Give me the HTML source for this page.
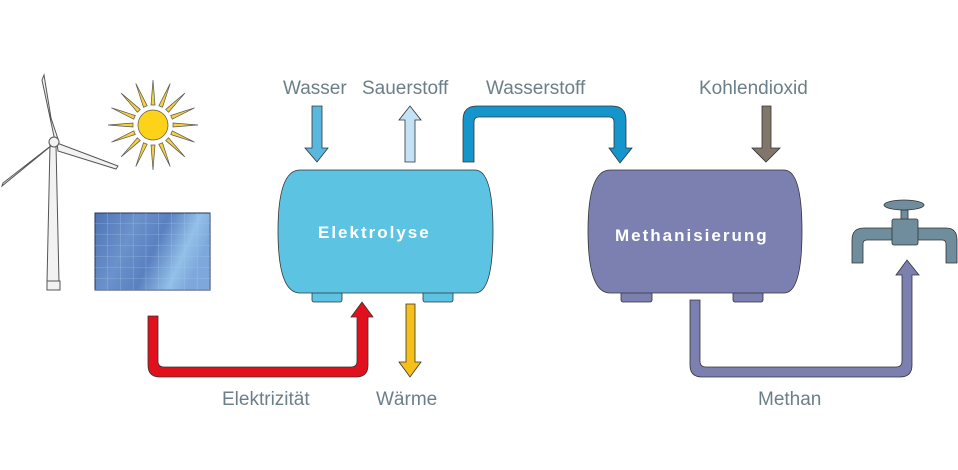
<!DOCTYPE html>
<html><head><meta charset="utf-8"><style>
body{margin:0;background:#fff}
svg{display:block}
text{font-family:"Liberation Sans",sans-serif}
</style></head><body>
<svg width="958" height="470" viewBox="0 0 958 470" xmlns="http://www.w3.org/2000/svg">
<defs>
<linearGradient id="pv" x1="0" y1="0" x2="1" y2="0.3">
<stop offset="0" stop-color="#4f74b4"/><stop offset="0.35" stop-color="#6c92cc"/><stop offset="0.6" stop-color="#5a80c0"/><stop offset="0.85" stop-color="#92c0e8"/><stop offset="1" stop-color="#7ea8dc"/>
</linearGradient>
<pattern id="grid" width="12.8" height="11" patternUnits="userSpaceOnUse" x="95" y="213">
<path d="M12.8 0V11M0 11H12.8" stroke="#a9c6ea" stroke-width="0.6" fill="none"/>
</pattern>
</defs>
<g fill="#6b7f8a" font-size="19">
<text x="283" y="94">Wasser</text>
<text x="362" y="94">Sauerstoff</text>
<text x="486" y="94">Wasserstoff</text>
<text x="699" y="94">Kohlendioxid</text>
<text x="222" y="405">Elektrizität</text>
<text x="376" y="405">Wärme</text>
<text x="758" y="405">Methan</text>
</g>
<!-- wind turbine -->
<g stroke="#555" stroke-width="1" fill="#f2f2f2">
<path d="M50 145 L56 145 L59 282 L47 282 Z"/>
<rect x="47" y="281" width="13" height="9"/>
<path d="M55 141 L42 80 L44 75 L51 118 L58 139 Z"/>
<path d="M57 143 L118 166 L116 169 L58 151 Z"/>
<path d="M51 146 L2 186 L3 183 L48 148 Z"/>
<circle cx="54" cy="142" r="5"/>
</g>
<!-- sun -->
<g stroke="#555" stroke-width="0.7" fill="#f5d040">
<g id="ray"><path d="M151 105 L153 80 L155 105 Z"/></g>
<use href="#ray" transform="rotate(22.5 153 125)"/><use href="#ray" transform="rotate(45 153 125)"/><use href="#ray" transform="rotate(67.5 153 125)"/><use href="#ray" transform="rotate(90 153 125)"/><use href="#ray" transform="rotate(112.5 153 125)"/><use href="#ray" transform="rotate(135 153 125)"/><use href="#ray" transform="rotate(157.5 153 125)"/><use href="#ray" transform="rotate(180 153 125)"/><use href="#ray" transform="rotate(202.5 153 125)"/><use href="#ray" transform="rotate(225 153 125)"/><use href="#ray" transform="rotate(247.5 153 125)"/><use href="#ray" transform="rotate(270 153 125)"/><use href="#ray" transform="rotate(292.5 153 125)"/><use href="#ray" transform="rotate(315 153 125)"/><use href="#ray" transform="rotate(337.5 153 125)"/>
<circle cx="153" cy="125" r="15" fill="#ffd21a"/>
</g>
<rect x="95" y="213" width="115" height="77" fill="url(#pv)" stroke="#23335a" stroke-width="1"/>
<rect x="95" y="213" width="115" height="77" fill="url(#grid)"/>
<g stroke="#333" stroke-width="0.8">
<rect x="312" y="285" width="30" height="17" rx="2" fill="#5cc3e3"/>
<rect x="423" y="285" width="30" height="17" rx="2" fill="#5cc3e3"/>
<path d="M300 170 H475 Q493 170 493 231 Q493 293 475 293 H300 Q278 293 278 231 Q278 170 300 170 Z" fill="#5cc3e3"/>
<rect x="621" y="285" width="31" height="17" rx="2" fill="#7b80b0"/>
<rect x="733" y="285" width="30" height="17" rx="2" fill="#7b80b0"/>
<path d="M610 170 H784 Q802 170 802 231 Q802 293 784 293 H610 Q588 293 588 231 Q588 170 610 170 Z" fill="#7b80b0"/>
</g>
<text x="318" y="238" fill="#fff" font-size="17" font-weight="bold" letter-spacing="2">Elektrolyse</text>
<text x="615" y="241" fill="#fff" font-size="17" font-weight="bold" letter-spacing="2">Methanisierung</text>
<g stroke="#333" stroke-width="0.8">
<path d="M312 106 H322 V148 H328 L317 162 L305 148 H312 Z" fill="#5ab8df"/>
<path d="M405 162 H415 V120 H421 L410 106 L399 120 H405 Z" fill="#c4e2f5"/>
<path d="M463 162 V120 Q463 106 477 106 H612 Q626 106 626 120 V148 H632 L620 163 L609 148 H614 V122 Q614 117 609 117 H479 Q474 117 474 122 V162 Z" fill="#1496cc"/>
<path d="M762 106 H771 V148 H780 L766 162 L752 148 H762 Z" fill="#80766a"/>
<path d="M148 316 H158 V361 Q158 367 164 367 H351 Q357 367 357 361 V317 H351 L362 302 L373 317 H368 V365 Q368 377 356 377 H160 Q148 377 148 365 Z" fill="#e2101d"/>
<path d="M406 304 H415 V362 H421 L410 377 L399 362 H406 Z" fill="#f6c018"/>
<path d="M690 300 H700 V361 Q700 367 706 367 H896 Q902 367 902 361 V275 H896 L907 260 L919 275 H912 V365 Q912 377 900 377 H702 Q690 377 690 365 Z" fill="#7b80b0"/>
</g>
<g stroke="#333" stroke-width="0.8" fill="#6f8d9c">
<path d="M852 263 V240 Q852 228 864 228 H946 Q957 228 957 240 V263 H946 V244 Q946 240 942 240 H867 Q863 240 863 244 V263 Z"/>
<rect x="901" y="210" width="7" height="10"/>
<rect x="892" y="219" width="26" height="26" rx="2"/>
<ellipse cx="904" cy="205" rx="20" ry="5"/>
</g>
</svg>
</body></html>
